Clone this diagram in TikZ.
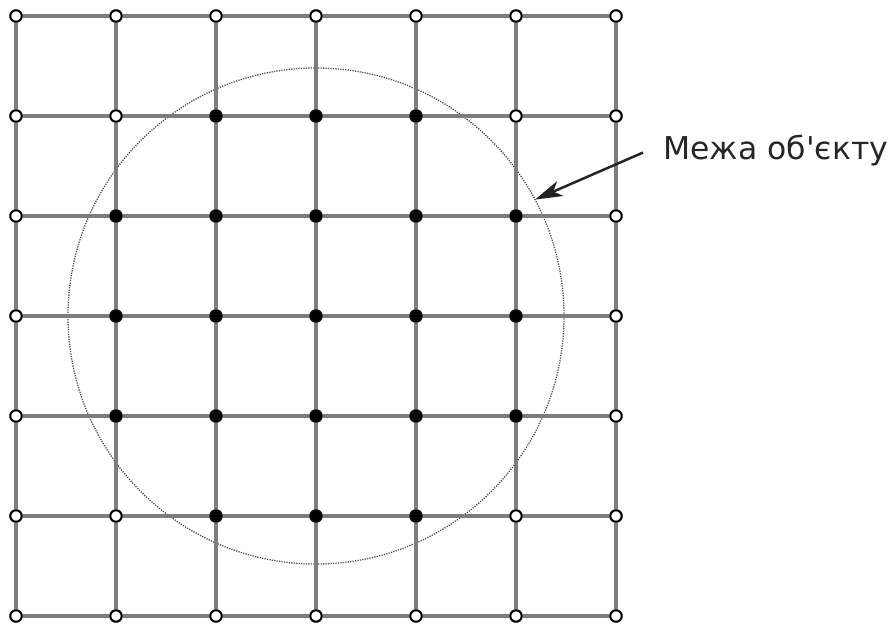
\documentclass[tikz,border=0pt]{standalone}
\usepackage{fontspec}
\newfontfamily\ukrfont{DejaVu Sans}
\usetikzlibrary{arrows.meta, positioning}
\definecolor{gridgray}{RGB}{125,125,125}
\definecolor{bordergray}{RGB}{80,80,80}
\definecolor{arrowgray}{RGB}{35,35,35}

\begin{document}
\begin{tikzpicture}[
    inpt/.style={circle, draw=black, fill=black, line width=1.2pt, inner sep=0pt, minimum size=0.23cm},
    outpt/.style={circle, draw=black, fill=white, line width=1.2pt, inner sep=0pt, minimum size=0.23cm},
    gridline/.style={draw=gridgray, line width=1.9pt},
    border/.style={circle, draw=bordergray, line width=0.75pt, dash pattern=on 0.7pt off 0.7pt, inner sep=0pt, outer sep=0pt, minimum size=9.92cm},
    lbltext/.style={font=\ukrfont\fontsize{17.9}{21}\selectfont, inner sep=0pt, text=black!85}
]
  \useasboundingbox (-0.32,0.32) rectangle (17.56,-12.2);

  % Object boundary
  \node[border] (obj) at (6,-6) {};

  % Grid points
  \foreach \i in {0,...,6} {
    \foreach \j in {0,...,6} {
      \pgfmathtruncatemacro\inside{((\i-3)^2+(\j-3)^2<6.2) ? 1 : 0}
      \ifnum\inside=1 \def\ptstyle{inpt}\else\def\ptstyle{outpt}\fi
      \node[\ptstyle] (p-\i-\j) at (2*\i,-2*\j) {};
    }
  }

  % Grid lines
  \foreach \j in {0,...,6} {
    \foreach \i in {0,...,5} {
      \pgfmathtruncatemacro\k{\i+1}
      \draw[gridline] (p-\i-\j) -- (p-\k-\j);
      \draw[gridline] (p-\j-\i) -- (p-\j-\k);
    }
  }

  % Label
  \node[lbltext, anchor=base west] (lbl) at (12.94,-2.86) {Межа об'єкту};
  \draw[-{Stealth[length=0.55cm, width=0.32cm, inset=0.15cm]}, arrowgray, line width=1.4pt]
    ([xshift=-0.4cm, yshift=-0.05cm]lbl.west) -- (obj.28);
\end{tikzpicture}
\end{document}
